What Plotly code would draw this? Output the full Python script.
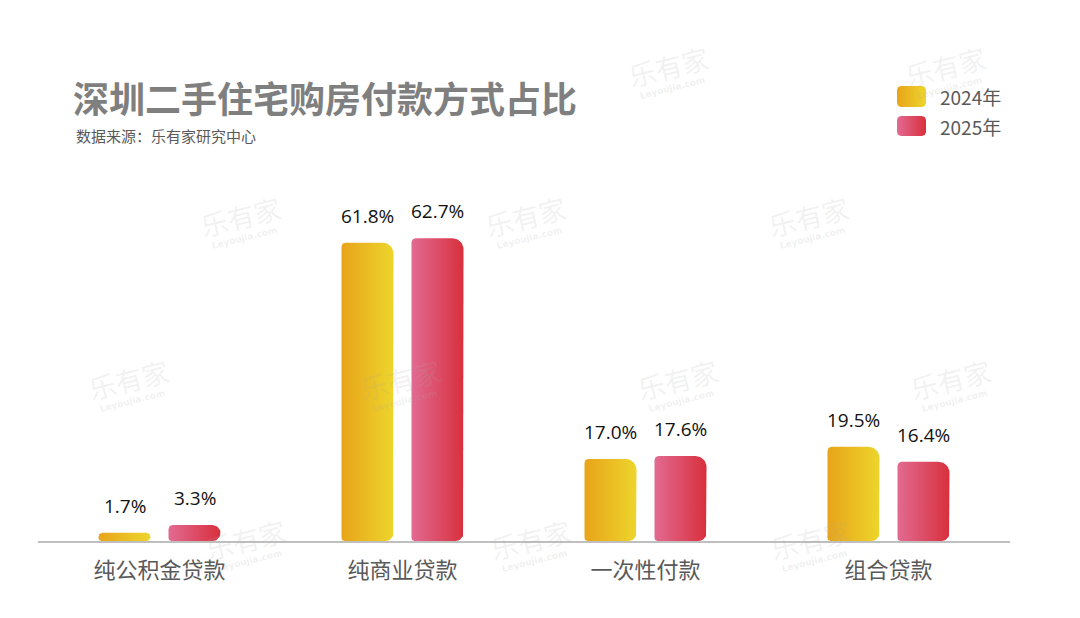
import numpy as np
import plotly.graph_objects as go

categories = ["纯公积金贷款", "纯商业贷款", "一次性付款", "组合贷款"]
series_names = ["2024年", "2025年"]
values_2024 = [1.7, 61.8, 17.0, 19.5]
values_2025 = [3.3, 62.7, 17.6, 16.4]
grad_2024 = ["#E8A41A", "#EDD52C"]
grad_2025 = ["#E26A92", "#D8303C"]
title_text = "深圳二手住宅购房付款方式占比"
source_text = "数据来源：乐有家研究中心"

W, H = 1080, 618
OFF = 8                      # page body margin offset
# plot area in screen pixels
PL, PR, PT, PB = 38, 1010, 150, 541
YMAX = 81.0
PX_X = (PR - PL) / 4.0
PX_Y = (PB - PT) / YMAX
BAR_W = 52
OFFS = 35
R_TL, R_TR, R_BR, R_BL = 4, 11, 8, 3


def arc(cx, cy, r, a0, a1, sx, sy, n=10):
    t = np.radians(np.linspace(a0, a1, n))
    return list(cx + r / sx * np.cos(t)), list(cy + r / sy * np.sin(t))


def rounded_rect(x0, x1, y0, y1, radii, sx, sy):
    """Rounded rectangle polygon in data units; sx, sy = pixels per unit (sy>0 => y up)."""
    hp = abs(y1 - y0) * abs(sy)
    lim = min(hp / 2, abs(x1 - x0) * sx / 2)
    tl, tr, br, bl = (min(r, lim) for r in radii)
    xs, ys = [], []
    for (cx, cy, r, a0, a1) in [
        (x0 + bl / sx, y0 + bl / sy, bl, 270, 180),
        (x0 + tl / sx, y1 - tl / sy, tl, 180, 90),
        (x1 - tr / sx, y1 - tr / sy, tr, 90, 0),
        (x1 - br / sx, y0 + br / sy, br, 0, -90),
    ]:
        ax, ay = arc(cx, cy, r, a0, a1, sx, sy)
        xs += ax; ys += ay
    xs.append(xs[0]); ys.append(ys[0])
    return xs, ys


fig = go.Figure()
for s, (name, vals, grad) in enumerate(zip(series_names,
                                           [values_2024, values_2025],
                                           [grad_2024, grad_2025])):
    off = (-OFFS if s == 0 else OFFS) / PX_X
    for i, v in enumerate(vals):
        xc = i + off
        xs, ys = rounded_rect(xc - BAR_W / 2 / PX_X, xc + BAR_W / 2 / PX_X, 0, v,
                              (R_TL, R_TR, R_BR, R_BL), PX_X, PX_Y)
        fig.add_trace(go.Scatter(
            x=xs, y=ys, mode="lines", fill="toself",
            line=dict(width=0, color=grad[1]),
            fillgradient=dict(type="horizontal",
                              colorscale=[[0, grad[0]], [1, grad[1]]]),
            name=name, showlegend=False, hoverinfo="skip",
            xaxis="x", yaxis="y"))
        fig.add_annotation(x=xc, y=v, xref="x", yref="y", text=f"{v:.1f}%",
                           showarrow=False, yanchor="bottom", yshift=12,
                           font=dict(family="Open Sans", size=19, color="#111111"))

# custom legend on a screen-pixel overlay axis (y increases downward)
leg_rows = [(86, 107), (116, 136)]
for (name, grad, (y0, y1)) in zip(series_names, [grad_2024, grad_2025], leg_rows):
    xs, ys = rounded_rect(897, 926, y1, y0, (4, 4, 4, 4), 1.0, -1.0)
    fig.add_trace(go.Scatter(
        x=xs, y=ys, mode="lines", fill="toself", line=dict(width=0, color=grad[1]),
        fillgradient=dict(type="horizontal", colorscale=[[0, grad[0]], [1, grad[1]]]),
        showlegend=False, hoverinfo="skip", xaxis="x2", yaxis="y2"))
    fig.add_annotation(x=938, y=(y0 + y1) / 2, xref="x2", yref="y2", text=name,
                       showarrow=False, xanchor="left", yanchor="middle",
                       font=dict(family="Noto Sans CJK SC", size=19, color="#595959"))

# faint watermarks
wm_pos = [(668, 72), (945, 72), (240, 222), (525, 222), (808, 222),
          (128, 385), (400, 385), (677, 385), (950, 385),
          (245, 545), (530, 545), (810, 545)]
for (wx, wy) in wm_pos:
    fig.add_annotation(x=wx, y=wy - 6, xref="x2", yref="y2", text="乐有家",
                       showarrow=False, textangle=-14,
                       font=dict(family="Noto Sans CJK SC", size=27,
                                 color="rgba(170,170,170,0.16)"))
    fig.add_annotation(x=wx + 4, y=wy + 16, xref="x2", yref="y2", text="<b>Leyoujia.com</b>",
                       showarrow=False, textangle=-14,
                       font=dict(family="DejaVu Sans", size=9,
                                 color="rgba(170,170,170,0.18)"))

fig.update_layout(
    width=W, height=H,
    margin=dict(l=0, r=0, t=0, b=0),
    paper_bgcolor="white", plot_bgcolor="rgba(0,0,0,0)",
    font=dict(family="Noto Sans CJK SC"),
    showlegend=False,
    xaxis=dict(domain=[(PL - OFF) / W, (PR - OFF) / W], range=[-0.5, 3.5],
               tickvals=list(range(4)), ticktext=categories,
               showgrid=False, zeroline=False, showline=True, automargin=False,
               linecolor="#BFBFBF", linewidth=2, ticks="",
               ticklabelstandoff=9, anchor="y",
               tickfont=dict(family="Noto Sans CJK SC", size=22, color="#595959")),
    yaxis=dict(domain=[(H + OFF - PB) / H, (H + OFF - PT) / H], range=[0, YMAX],
               visible=False, showgrid=False, zeroline=False, automargin=False,
               anchor="x"),
    xaxis2=dict(domain=[0, 1], range=[OFF, W + OFF], visible=False,
                showgrid=False, zeroline=False, anchor="y2", automargin=False),
    yaxis2=dict(domain=[0, 1], range=[H + OFF, OFF], visible=False,
                showgrid=False, zeroline=False, anchor="x2", automargin=False),
)

fig.add_annotation(x=71, y=97, xref="x2", yref="y2", xanchor="left", yanchor="middle",
                   text=f"<b>{title_text}</b>", showarrow=False,
                   font=dict(family="Noto Sans CJK SC", size=36, color="#7F7F7F"))
fig.add_annotation(x=74, y=135, xref="x2", yref="y2", xanchor="left", yanchor="middle",
                   text=source_text, showarrow=False,
                   font=dict(family="Noto Sans CJK SC", size=15, color="#595959"))

fig.write_html("out.html")
